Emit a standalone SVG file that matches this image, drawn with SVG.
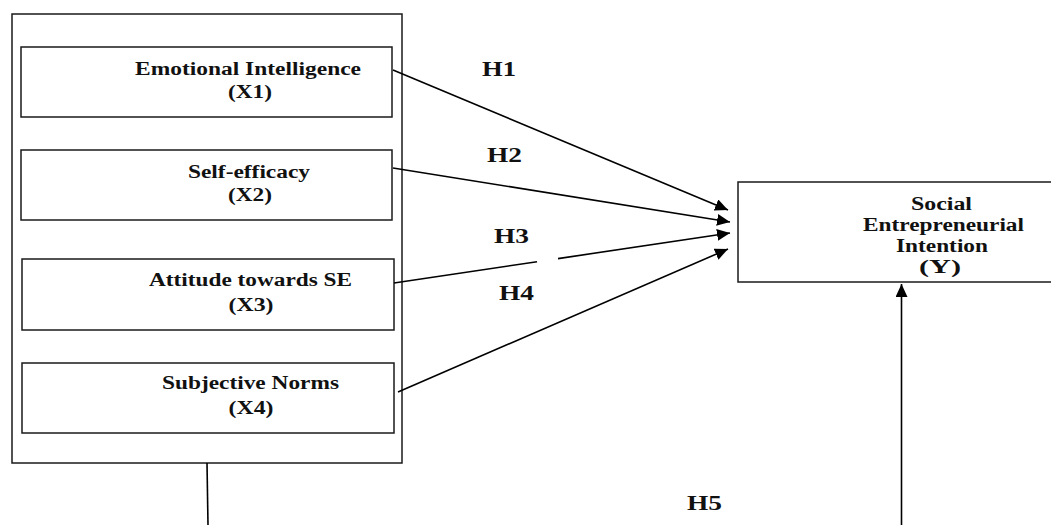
<svg xmlns="http://www.w3.org/2000/svg" width="1051" height="525" viewBox="0 0 1051 525">
<style>
.box{fill:#fff;stroke:#1a1a1a;stroke-width:1.5}
.t{font-family:"Liberation Serif","Times New Roman",serif;font-weight:bold;fill:#111;text-anchor:middle}
.n{font-size:18.5px}
.h{font-size:22px}
.ln{stroke:#000;stroke-width:1.6;fill:none}
</style>
<defs>
<marker id="ah" markerWidth="14" markerHeight="12" refX="13" refY="6" orient="auto" markerUnits="userSpaceOnUse">
<path d="M0,0 L13,6 L0,12 Z" fill="#000"/>
</marker>
</defs>
<rect width="1051" height="525" fill="#fff"/>
<g id="group-box">
<rect class="box" x="12" y="14" width="390" height="449"/>
</g>
<g id="x1">
<rect class="box" x="21" y="47" width="371" height="70"/>
<text class="t n" x="248" y="74.5" textLength="226" lengthAdjust="spacingAndGlyphs">Emotional Intelligence</text>
<text class="t n" x="250" y="98" textLength="44" lengthAdjust="spacingAndGlyphs">(X1)</text>
</g>
<g id="x2">
<rect class="box" x="21" y="150" width="371" height="70"/>
<text class="t n" x="249" y="177.5" textLength="122" lengthAdjust="spacingAndGlyphs">Self-efficacy</text>
<text class="t n" x="250" y="201" textLength="44" lengthAdjust="spacingAndGlyphs">(X2)</text>
</g>
<g id="x3">
<rect class="box" x="22" y="259" width="372" height="71"/>
<text class="t n" x="250.5" y="285.5" textLength="203" lengthAdjust="spacingAndGlyphs">Attitude towards SE</text>
<text class="t n" x="251" y="311" textLength="45" lengthAdjust="spacingAndGlyphs">(X3)</text>
</g>
<g id="x4">
<rect class="box" x="22" y="363" width="372" height="70"/>
<text class="t n" x="250.5" y="388.5" textLength="177" lengthAdjust="spacingAndGlyphs">Subjective Norms</text>
<text class="t n" x="251" y="414" textLength="45" lengthAdjust="spacingAndGlyphs">(X4)</text>
</g>
<g id="y">
<rect class="box" x="738" y="182" width="320" height="100"/>
<text class="t n" x="941.5" y="210" textLength="61" lengthAdjust="spacingAndGlyphs">Social</text>
<text class="t n" x="943.5" y="231" textLength="161" lengthAdjust="spacingAndGlyphs">Entrepreneurial</text>
<text class="t n" x="942" y="252" textLength="92" lengthAdjust="spacingAndGlyphs">Intention</text>
<text class="t n" x="940" y="273" textLength="42" lengthAdjust="spacingAndGlyphs">(Y)</text>
</g>
<g id="connectors">
<line class="ln" x1="393" y1="70" x2="728" y2="210" marker-end="url(#ah)"/>
<line class="ln" x1="393" y1="168" x2="730" y2="222" marker-end="url(#ah)"/>
<line class="ln" x1="394" y1="283" x2="537" y2="261.7"/>
<line class="ln" x1="558" y1="258.6" x2="730" y2="233" marker-end="url(#ah)"/>
<line class="ln" x1="398" y1="392" x2="728" y2="249" marker-end="url(#ah)"/>
<line class="ln" x1="207" y1="463" x2="208" y2="525" stroke-width="1.2"/>
<line class="ln" x1="901.5" y1="525" x2="901.5" y2="284" stroke-width="2.4" marker-end="url(#ah)"/>
</g>
<g id="labels">
<text class="t h" x="499" y="76" textLength="34" lengthAdjust="spacingAndGlyphs">H1</text>
<text class="t h" x="504.5" y="162" textLength="35" lengthAdjust="spacingAndGlyphs">H2</text>
<text class="t h" x="511.5" y="243" textLength="35" lengthAdjust="spacingAndGlyphs">H3</text>
<text class="t h" x="516.5" y="300" textLength="35" lengthAdjust="spacingAndGlyphs">H4</text>
<text class="t h" x="704.5" y="510" textLength="35" lengthAdjust="spacingAndGlyphs">H5</text>
</g>
</svg>
